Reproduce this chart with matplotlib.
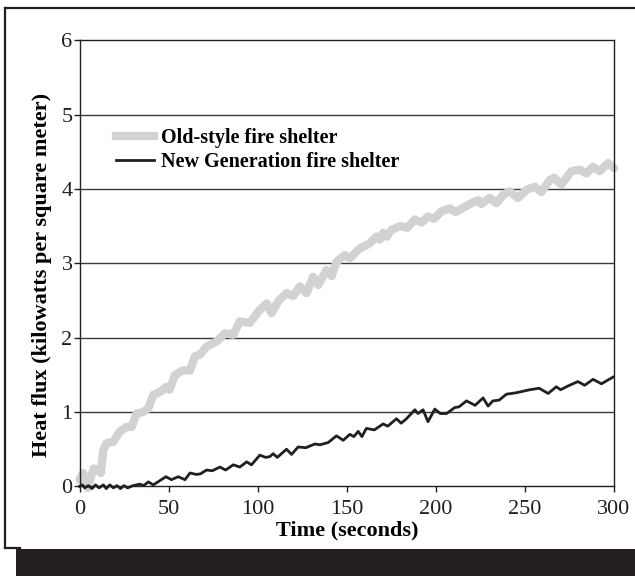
import matplotlib.pyplot as plt
from matplotlib.patches import Rectangle
from matplotlib.lines import Line2D

# Old-style fire shelter (thick gray trace)
old_t = [0, 2, 4.5, 8, 10.6, 12, 13.4, 15.2, 19, 22.7, 26.5, 29.3, 32, 35.8, 38.6,
         41.4, 45.1, 48.9, 50.5, 53.6, 58.2, 62, 64.8, 67.5, 71.3, 77, 81.6, 86.3,
         90, 95.6, 100.3, 105, 107.8, 111.5, 116.2, 119.9, 123.7, 127.4, 131.1, 134,
         138.6, 141.5, 144.2, 148.9, 151.7, 157.3, 162.9, 166.7, 168.5, 170.4, 172.5,
         175, 179.8, 184, 188.2, 192, 195.6, 199, 203.1, 207.8, 211, 216.2, 220,
         223.7, 225.5, 230.2, 234, 237.7, 241.4, 246.1, 250.8, 255.5, 259.2, 263.9,
         266.5, 270.4, 276, 280.7, 284.5, 288.2, 291.9, 296.6, 300]
old_v = [0.09, 0.18, -0.02, 0.24, 0.22, 0.18, 0.49, 0.58, 0.60, 0.74, 0.80, 0.80, 0.98,
         1.00, 1.05, 1.23, 1.27, 1.34, 1.30, 1.50, 1.56, 1.56, 1.75, 1.77, 1.88, 1.95,
         2.06, 2.04, 2.22, 2.20, 2.35, 2.46, 2.33, 2.49, 2.60, 2.56, 2.69, 2.60, 2.82,
         2.71, 2.91, 2.83, 3.02, 3.11, 3.07, 3.20, 3.27, 3.36, 3.32, 3.41, 3.36, 3.45,
         3.50, 3.48, 3.59, 3.55, 3.63, 3.60, 3.70, 3.74, 3.69, 3.76, 3.81, 3.85, 3.80,
         3.88, 3.81, 3.92, 3.97, 3.88, 3.99, 4.03, 3.96, 4.12, 4.15, 4.06, 4.24, 4.26,
         4.21, 4.30, 4.24, 4.35, 4.28]

# New Generation fire shelter (thin black trace)
new_t = [0, 1.5, 3, 5, 7, 9, 11, 13.4, 15, 17, 19, 21, 23, 25, 27, 30, 33.9, 36, 38.6,
         41.4, 44, 48.5, 51.6, 55.4, 59.2, 62, 65.7, 68, 71.3, 74.5, 78.8, 82, 86.3, 90,
         93.8, 96.5, 101.2, 104.5, 106.8, 108.7, 111, 116.2, 119, 122.7, 127, 132.1,
         135, 139.6, 144.2, 148, 151.7, 154, 156.4, 158.5, 161, 165.5, 170.4, 173,
         177.9, 180.5, 183.5, 188.2, 190, 192.8, 195.6, 199.4, 202.5, 206, 210.6, 213,
         217.2, 222, 226.5, 229.3, 232, 235.5, 239.6, 245.2, 252.7, 258, 263, 267.6,
         270, 274.1, 279.7, 283.5, 288.2, 292.9, 299.4]
new_v = [0.0, 0.02, -0.02, 0.01, -0.03, 0.02, -0.02, 0.02, -0.03, 0.02, -0.02, 0.01,
         -0.03, 0.01, -0.02, 0.01, 0.03, 0.01, 0.06, 0.02, 0.06, 0.13, 0.09, 0.13, 0.09,
         0.18, 0.16, 0.17, 0.22, 0.21, 0.26, 0.22, 0.29, 0.26, 0.33, 0.29, 0.42, 0.39,
         0.40, 0.44, 0.39, 0.50, 0.43, 0.53, 0.52, 0.57, 0.56, 0.59, 0.68, 0.62, 0.70,
         0.67, 0.74, 0.67, 0.78, 0.76, 0.84, 0.81, 0.91, 0.85, 0.91, 1.03, 0.98, 1.03,
         0.87, 1.04, 0.98, 0.98, 1.06, 1.07, 1.15, 1.09, 1.19, 1.08, 1.15, 1.16, 1.24,
         1.26, 1.30, 1.32, 1.25, 1.34, 1.30, 1.35, 1.41, 1.36, 1.44, 1.38, 1.47]

x_ticks = [0, 50, 100, 150, 200, 250, 300]
y_ticks = [0, 1, 2, 3, 4, 5, 6]

plt.rcParams['font.family'] = ['Liberation Serif', 'DejaVu Serif']

fig = plt.figure(figsize=(6.35, 5.76), dpi=100)
ax = fig.add_axes([0.1252, 0.1556, 0.8418, 0.7743])

# gridlines at each whole unit
for v in y_ticks[1:-1]:
    ax.axhline(v, color='#3a3a3a', lw=1.0, zorder=1)

ax.plot(old_t, old_v, color='#d1d2d3', lw=6.0, solid_capstyle='round',
        solid_joinstyle='round', zorder=2, clip_on=False)
ax.plot(new_t, new_v, color='#231f20', lw=2.0, solid_joinstyle='round',
        zorder=3, clip_on=False)

ax.set_xlim(0, 300)
ax.set_ylim(0, 6)
ax.set_xticks(x_ticks)
ax.set_yticks(y_ticks)
ax.tick_params(direction='out', length=4, width=1, labelsize=16,
               colors='#231f20')
ax.tick_params(axis='x', pad=6)
ax.tick_params(axis='y', pad=1)
for s in ax.spines.values():
    s.set_color('#231f20')
    s.set_linewidth(1.0)

ax.set_xlabel('Time (seconds)', fontsize=16, fontweight='bold', labelpad=1)
ax.set_ylabel('Heat flux (kilowatts per square meter)', fontsize=16,
              fontweight='bold')
ax.yaxis.set_label_coords(-0.052, 0.474)

handles = [Line2D([], [], color='#d1d2d3', lw=6.0),
           Line2D([], [], color='#231f20', lw=2.0)]
ax.legend(handles, ['Old-style fire shelter', 'New Generation fire shelter'],
          loc='upper left', bbox_to_anchor=(0.068, 0.803), frameon=False,
          borderpad=0, borderaxespad=0, handlelength=1.9, handletextpad=0.35,
          labelspacing=0.17, prop={'weight': 'bold', 'size': 14.5})

# page frame and dark band along the bottom
fig.add_artist(Line2D([4.5 / 635, 1.0], [1 - 7.5 / 576, 1 - 7.5 / 576],
                      color='#231f20', lw=1.6, transform=fig.transFigure))
fig.add_artist(Line2D([4.5 / 635, 4.5 / 635], [1 - 7.5 / 576, 1 - 548 / 576],
                      color='#231f20', lw=1.6, transform=fig.transFigure))
fig.add_artist(Line2D([4.5 / 635, 20 / 635], [1 - 548 / 576, 1 - 548 / 576],
                      color='#231f20', lw=1.6, transform=fig.transFigure))
fig.add_artist(Rectangle((16 / 635, 0), 1 - 16 / 635, 27.5 / 576,
                         transform=fig.transFigure, color='#231f20', lw=0))

fig.savefig('out.png', dpi=100)
